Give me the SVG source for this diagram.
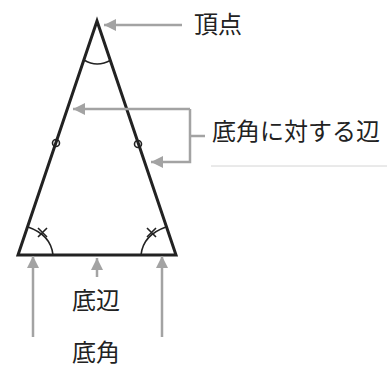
<svg xmlns="http://www.w3.org/2000/svg" width="387" height="369" viewBox="0 0 387 369">
<style>
.tri{fill:none;stroke:#222;stroke-width:3;stroke-linejoin:miter}
.mark{fill:none;stroke:#222;stroke-width:1.6}
.conn{fill:none;stroke:#a3a3a3;stroke-width:2.5}
.lbl{font-family:"Noto Sans CJK JP","Noto Sans CJK SC",sans-serif;font-size:24px;fill:#222}
</style>
<defs>
<marker id="ah" markerUnits="userSpaceOnUse" markerWidth="14" markerHeight="12" refX="12" refY="6" orient="auto">
<path d="M0,0 L12,6 L0,12 Z" fill="#a3a3a3"/>
</marker>
</defs>
<rect width="387" height="369" fill="#fff"/>
<g id="triangle">
<path class="tri" d="M97,21 L18,255 L176,255 Z"/>
<path class="mark" d="M84,60 Q97,68 111,60"/>
<circle class="mark" cx="56" cy="143" r="3.5"/>
<circle class="mark" cx="138" cy="144" r="3.5"/>
<path class="mark" d="M28,227 Q51,235 53,255"/>
<path class="mark" d="M38,228 L47,237 M38,237 L47,228"/>
<path class="mark" d="M166,227 Q143,235 141,255"/>
<path class="mark" d="M147,228 L156,237 M147,237 L156,228"/>
</g>
<g id="connectors">
<path class="conn" d="M182,25 L104,25" marker-end="url(#ah)"/>
<path class="conn" d="M190,109 L73,109" marker-end="url(#ah)"/>
<path class="conn" d="M190,109 L190,162 L151,162" marker-end="url(#ah)"/>
<path class="conn" d="M190,136 L205,136"/>
<path class="conn" d="M33,337 L33,256" marker-end="url(#ah)"/>
<path class="conn" d="M162,337 L162,256" marker-end="url(#ah)"/>
<path class="conn" d="M97,277 L97,258" marker-end="url(#ah)"/>
</g>
<g id="label-vertex"><text class="lbl" x="194" y="33" font-size="25">頂点</text></g>
<g id="label-opposite"><text class="lbl" x="212" y="140">底角に対する辺</text>
<line x1="211" y1="166" x2="387" y2="166" stroke="#d4d4d4" stroke-width="1"/></g>
<g id="label-base"><text class="lbl" x="72" y="309">底辺</text></g>
<g id="label-baseangle"><text class="lbl" x="72" y="361">底角</text></g>
</svg>
